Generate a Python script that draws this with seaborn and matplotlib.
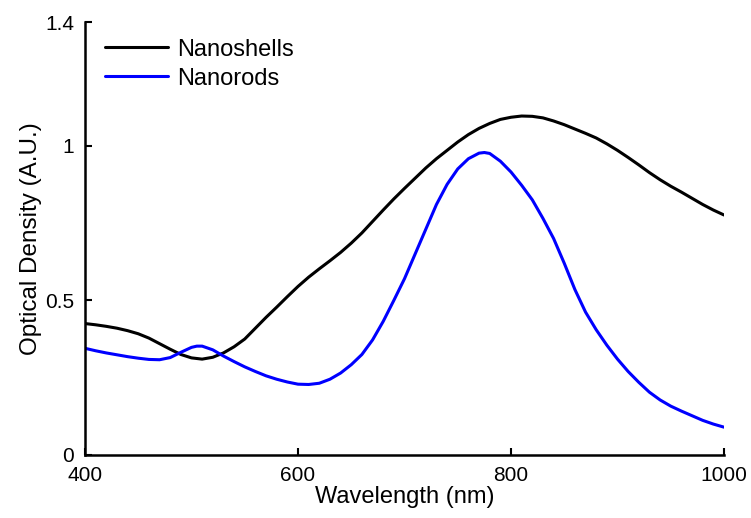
import matplotlib
matplotlib.use("Agg")
import matplotlib.pyplot as plt
import seaborn as sns
import pandas as pd

shell_wl = [400, 410, 420, 430, 440, 450, 460, 470, 480, 490, 500, 510, 520, 530, 540, 550,
            560, 570, 580, 590, 600, 610, 620, 630, 640, 650, 660, 670, 680, 690, 700, 710,
            720, 730, 740, 750, 760, 770, 780, 790, 800, 810, 820, 830, 840, 850, 860, 870,
            880, 890, 900, 910, 920, 930, 940, 950, 960, 970, 980, 990, 1000]
shell_od = [0.425, 0.421, 0.416, 0.410, 0.402, 0.392, 0.378, 0.360, 0.342, 0.325, 0.314, 0.310,
            0.316, 0.330, 0.350, 0.375, 0.410, 0.445, 0.478, 0.512, 0.545, 0.575, 0.602, 0.628,
            0.655, 0.685, 0.718, 0.755, 0.792, 0.828, 0.862, 0.895, 0.928, 0.958, 0.985, 1.012,
            1.036, 1.056, 1.072, 1.085, 1.092, 1.096, 1.095, 1.090, 1.080, 1.068, 1.054, 1.040,
            1.025, 1.006, 0.985, 0.962, 0.938, 0.913, 0.890, 0.869, 0.850, 0.830, 0.810, 0.792,
            0.776]

rod_wl = [400, 410, 420, 430, 440, 450, 460, 470, 480, 490, 500, 505, 510, 520, 530, 540, 550,
          560, 570, 580, 590, 600, 610, 620, 630, 640, 650, 660, 670, 680, 690, 700, 710, 720,
          730, 740, 750, 760, 770, 775, 780, 790, 800, 810, 820, 830, 840, 850, 860, 870, 880,
          890, 900, 910, 920, 930, 940, 950, 960, 970, 980, 990, 1000]
rod_od = [0.345, 0.337, 0.330, 0.324, 0.318, 0.313, 0.309, 0.308, 0.315, 0.332, 0.348, 0.352,
          0.352, 0.340, 0.320, 0.302, 0.285, 0.270, 0.256, 0.245, 0.236, 0.229, 0.228, 0.232,
          0.245, 0.265, 0.292, 0.325, 0.372, 0.432, 0.500, 0.570, 0.650, 0.730, 0.810, 0.875,
          0.925, 0.958, 0.976, 0.978, 0.975, 0.950, 0.915, 0.872, 0.825, 0.765, 0.700, 0.620,
          0.535, 0.462, 0.405, 0.355, 0.310, 0.270, 0.235, 0.203, 0.178, 0.158, 0.142, 0.127,
          0.112, 0.100, 0.090]

series_names = ["Nanoshells", "Nanorods"]
x_ticks = [400, 600, 800, 1000]
y_ticks = [0, 0.5, 1, 1.4]
y_tick_labels = ["0", "0.5", "1", "1.4"]

df = pd.concat([
    pd.DataFrame({"Wavelength": shell_wl, "OD": shell_od, "Sample": series_names[0]}),
    pd.DataFrame({"Wavelength": rod_wl, "OD": rod_od, "Sample": series_names[1]}),
])

sns.set_style("ticks")
plt.rcParams["font.family"] = ["Liberation Sans", "DejaVu Sans"]
plt.rcParams["text.color"] = "black"
plt.rcParams["axes.labelcolor"] = "black"

fig = plt.figure(figsize=(7.51, 5.18), dpi=100)
ax = fig.add_axes([85/751, 63/518, 639/751, 433/518])

sns.lineplot(data=df, x="Wavelength", y="OD", hue="Sample",
             palette={"Nanoshells": "black", "Nanorods": "#0000ff"},
             linewidth=2.2, ax=ax, sort=True)

ax.set_xlim(400, 1000)
ax.set_ylim(0, 1.4)
ax.set_xticks(x_ticks)
ax.set_xticklabels([str(t) for t in x_ticks])
ax.set_yticks(y_ticks)
ax.set_yticklabels(y_tick_labels)
ax.tick_params(direction="in", length=5, width=1.5, labelsize=15, colors="black")
ax.tick_params(axis="x", pad=8)
ax.tick_params(axis="y", pad=8)
for s in ["top", "right"]:
    ax.spines[s].set_visible(False)
for s in ["left", "bottom"]:
    ax.spines[s].set_linewidth(1.8)
    ax.spines[s].set_color("black")

ax.set_xlabel("Wavelength (nm)", fontsize=17, labelpad=1, color="black")
ax.set_ylabel("Optical Density (A.U.)", fontsize=17.5, labelpad=2, color="black")

leg = ax.legend(loc="upper left", bbox_to_anchor=(0.005, 1.0), frameon=False, fontsize=17,
                handlelength=2.7, handletextpad=0.35, labelspacing=0.3, borderaxespad=0.3)
for t in leg.get_texts():
    t.set_color("black")

fig.savefig("out.png", dpi=100)
